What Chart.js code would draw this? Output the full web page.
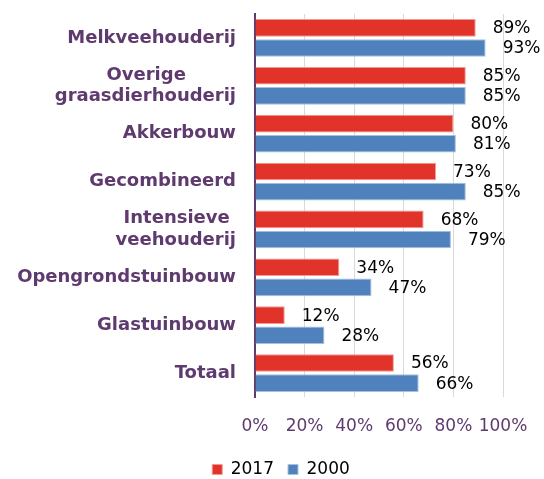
<!DOCTYPE html>
<html>
<head>
<meta charset="utf-8">
<script src="https://cdn.jsdelivr.net/npm/chart.js@4"></script>
<style>
    html, body { margin: 0; padding: 0; background: #fff; }
    #wrap { width: 544px; height: 479px; position: relative; }
</style>
</head>
<body>
<div id="wrap"><canvas id="chart"></canvas></div>
<script>
// trailing spaces keep the short first line centred over the second one
const categories = [
    'Melkveehouderij',
    ['Overige        ', 'graasdierhouderij'],
    'Akkerbouw',
    'Gecombineerd',
    ['Intensieve ', 'veehouderij'],
    'Opengrondstuinbouw',
    'Glastuinbouw',
    'Totaal'
];
const values2017 = [89, 85, 80, 73, 68, 34, 12, 56];
const values2000 = [93, 85, 81, 85, 79, 47, 28, 66];
const xTicks = [0, 20, 40, 60, 80, 100];

const purple = '#5e3a6e';

// draws the "89%" style labels next to each bar
const barLabels = {
    id: 'barLabels',
    afterDatasetsDraw(chart) {
        const ctx = chart.ctx;
        ctx.save();
        ctx.font = '17px "DejaVu Sans"';
        ctx.fillStyle = '#000';
        ctx.textAlign = 'left';
        ctx.textBaseline = 'middle';
        chart.data.datasets.forEach((ds, i) => {
            chart.getDatasetMeta(i).data.forEach((bar, j) => {
                ctx.fillText(ds.data[j] + '%', bar.x + 17, bar.y + 1);
            });
        });
        ctx.restore();
    }
};

const ctx = document.getElementById('chart').getContext('2d');
new Chart(ctx, {
    type: 'bar',
    data: {
        labels: categories,
        datasets: [{
            label: '2017',
            data: values2017,
            backgroundColor: '#e2332a',
            borderColor: '#f09a93',
            borderWidth: 1,
            categoryPercentage: 0.84,
            barPercentage: 0.88
        }, {
            label: '2000',
            data: values2000,
            backgroundColor: '#4f81bd',
            borderColor: '#a8c0df',
            borderWidth: 1,
            categoryPercentage: 0.84,
            barPercentage: 0.88
        }]
    },
    options: {
        indexAxis: 'y',
        responsive: true,
        maintainAspectRatio: false,
        animation: false,
        layout: {
            padding: { top: 14, right: -15, bottom: -9, left: 3 }
        },
        plugins: {
            tooltip: { enabled: false },
            legend: {
                display: true,
                position: 'bottom',
                labels: {
                    boxWidth: 10,
                    boxHeight: 10,
                    padding: 14,
                    color: '#000',
                    font: { family: 'DejaVu Sans', size: 17 }
                }
            }
        },
        scales: {
            x: {
                min: 0,
                max: 100,
                afterBuildTicks: (axis) => {
                    axis.ticks = xTicks.map(v => ({ value: v }));
                },
                afterFit: (axis) => {
                    axis.height = 50;
                    axis.paddingLeft = 0;
                    axis.paddingRight = 41;
                },
                grid: { color: '#d9d9d9', drawTicks: false },
                border: { display: false },
                ticks: {
                    padding: 19,
                    maxRotation: 0,
                    minRotation: 0,
                    autoSkip: false,
                    color: purple,
                    font: { family: 'DejaVu Sans', size: 17 },
                    callback: (v) => v + '%'
                }
            },
            y: {
                afterFit: (axis) => {
                    axis.width = 252;
                    axis.paddingTop = 0;
                    axis.paddingBottom = 0;
                },
                grid: { display: false },
                border: { display: true, color: purple, width: 2 },
                ticks: {
                    padding: 11,
                    autoSkip: false,
                    color: purple,
                    font: { family: 'DejaVu Sans', size: 18, weight: 'bold' }
                }
            }
        }
    },
    plugins: [barLabels]
});
</script>
</body>
</html>
